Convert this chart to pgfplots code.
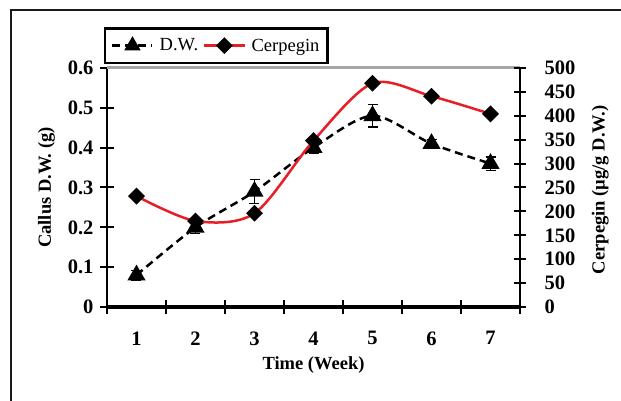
\documentclass[border=0pt]{standalone}
\usepackage{fontspec}
\setmainfont{Liberation Serif}
\usepackage{pgfplots}
\pgfplotsset{compat=1.18}
\definecolor{cred}{RGB}{232,30,38}
\newcommand\fs{\fontsize{18.5pt}{22pt}\selectfont}
\newcommand\ft{\fontsize{20.5pt}{24pt}\selectfont}
\begin{document}
\begin{tikzpicture}
\useasboundingbox (-107pt,-94pt) rectangle (514pt,307pt);
\draw[line width=2.5pt, black!90] (-96pt,-100pt) -- (-96pt,297pt) -- (520pt,297pt);
\begin{axis}[
  at={(0pt,0pt)}, anchor=south west,
  width=413pt, height=239pt, scale only axis,
  xmin=0.5, xmax=7.5, ymin=0, ymax=0.6,
  axis x line*=bottom, axis y line*=left,
  x axis line style={line width=4pt, -},
  y axis line style={line width=2pt, -},
  xtick={0.5,1.5,2.5,3.5,4.5,5.5,6.5,7.5}, xticklabels={},
  extra x ticks={1,2,3,4,5,6,7},
  extra x tick labels={1,2,3,4,5,6,7},
  extra x tick style={major tick length=0pt},
  ytick={0,0.1,0.2,0.3,0.4,0.5,0.6},
  yticklabels={0,0.1,0.2,0.3,0.4,0.5,0.6},
  tick align=center,
  major tick length=14pt,
  tick style={line width=2pt, black},
  tick label style={font=\ft\bfseries},
  /pgf/number format/assume math mode=true,
  yticklabel style={xshift=-3pt},
  xticklabel style={yshift=-21pt},
  xlabel={Time (Week)},
  xlabel style={font=\fs\bfseries, at={(axis description cs:0.5,-0.2636)}, anchor=base},
  ylabel={Callus D.W. (g)},
  ylabel style={font=\fs\bfseries, at={(axis description cs:-0.136,0.5)}, anchor=base},
  clip=false,
]
\draw[line width=3pt, gray!70] (axis cs:0.5,0.6) -- (axis cs:7.5,0.6);
\addplot[black, line width=2.5pt, dash pattern=on 8pt off 5pt, smooth, mark=triangle*, mark size=8pt, mark options={solid},
  error bars/.cd, y dir=both, y explicit, error bar style={line width=1.5pt, solid}, error mark options={line width=1.5pt, mark size=5pt, solid, rotate=90}]
 coordinates {
 (1,0.08) +- (0,0.012)
 (2,0.20) +- (0,0.015)
 (3,0.29) +- (0,0.03)
 (4,0.40) +- (0,0.015)
 (5,0.48) +- (0,0.028)
 (6,0.41) +- (0,0.01)
 (7,0.36) +- (0,0.017)
 };
\end{axis}
\begin{axis}[
  at={(0pt,0pt)}, anchor=south west,
  width=413pt, height=239pt, scale only axis,
  xmin=0.5, xmax=7.5, ymin=0, ymax=500,
  axis x line=none, axis y line*=right,
  y axis line style={line width=2pt, -},
  ytick={0,50,100,150,200,250,300,350,400,450,500},
  tick align=center, major tick length=12pt,
  tick style={line width=2pt, black},
  tick label style={font=\ft\bfseries},
  /pgf/number format/assume math mode=true,
  yticklabel style={xshift=15pt},
  ylabel={Cerpegin (µg/g D.W.)},
  ylabel style={font=\fs\bfseries, at={(axis description cs:1.205,0.49)}, anchor=base},
  legend style={at={(axis description cs:-0.0073,1.1715)}, anchor=north west, draw=black, line width=2.5pt, font=\fs, legend columns=2, inner xsep=6pt, inner ysep=8.5pt, /tikz/every odd column/.append style={column sep=4pt}, /tikz/every even column/.append style={column sep=3pt}},
  legend image code/.code={\draw[mark repeat=2,mark phase=2] plot coordinates {(0pt,0pt) (20pt,0pt) (40pt,0pt)};},
  clip=false,
]
\addlegendimage{black, line width=2.5pt, dash pattern=on 8pt off 5pt, mark=triangle*, mark size=7pt, mark options={solid}}
\addlegendentry{D.W.}
\addplot[cred, line width=2.5pt, smooth, mark=square*, mark size=4.7pt, mark options={black, rotate=45}]
 coordinates {
 (1,232) (2,180) (3,196) (4,348) (5,468) (6,441) (7,404)
 };
\addlegendentry{Cerpegin}
\end{axis}
\end{tikzpicture}
\end{document}
